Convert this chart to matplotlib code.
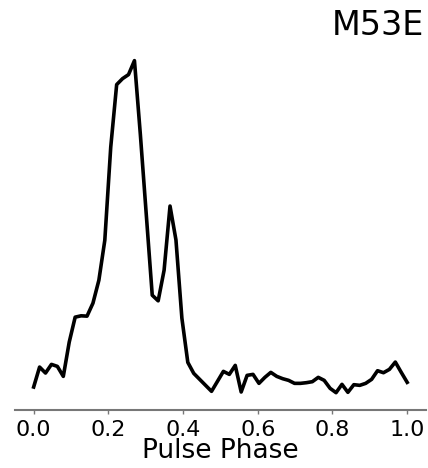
import numpy as np
import matplotlib
matplotlib.use("Agg")
import matplotlib.pyplot as plt

# pulse profile of M53E, 64 phase bins, normalised to peak
phase = np.linspace(0.0, 1.0, 64)
profile = [
    0.019, 0.079, 0.061, 0.087, 0.081, 0.051, 0.154, 0.229,
    0.233, 0.232, 0.271, 0.340, 0.460, 0.740, 0.928, 0.946,
    0.958, 1.000, 0.777, 0.536, 0.295, 0.278, 0.370, 0.563,
    0.461, 0.226, 0.093, 0.060, 0.042, 0.024, 0.006, 0.036,
    0.066, 0.057, 0.084, 0.004, 0.054, 0.057, 0.030, 0.048,
    0.063, 0.051, 0.044, 0.039, 0.030, 0.030, 0.032, 0.035,
    0.048, 0.039, 0.015, 0.002, 0.027, 0.003, 0.026, 0.024,
    0.030, 0.042, 0.068, 0.062, 0.072, 0.094, 0.063, 0.033,
]
xticks = [0.0, 0.2, 0.4, 0.6, 0.8, 1.0]
title = "M53E"

fig = plt.figure(figsize=(4.28, 4.68), dpi=100)
ax = fig.add_axes([0.035, 0.124, 0.960, 0.782])

ax.plot(phase, profile, color="black", lw=2.6)
ax.set_xlim(-0.05, 1.05)
ax.set_ylim(-0.05, 1.05)

for s in ["left", "right", "top"]:
    ax.spines[s].set_visible(False)
ax.spines["bottom"].set_color("#777777")
ax.spines["bottom"].set_linewidth(1.5)

ax.set_yticks([])
ax.set_xticks(xticks)
ax.set_xticklabels([f"{t:.1f}" for t in xticks])
ax.tick_params(axis="x", length=3, width=1, color="#777777", labelsize=16, pad=4)
ax.set_xlabel("Pulse Phase", fontsize=19, labelpad=-1)

fig.text(0.99, 0.945, title, ha="right", va="center", fontsize=24)

fig.savefig("out.png", dpi=100)
